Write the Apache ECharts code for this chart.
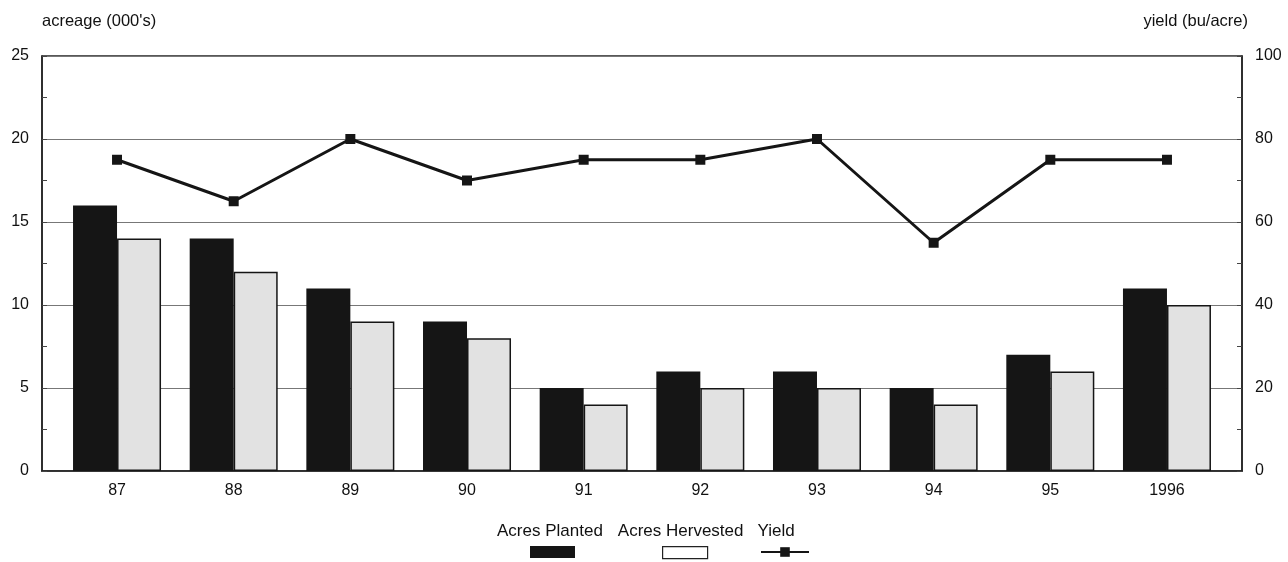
<!DOCTYPE html>
<html>
<head>
<meta charset="utf-8">
<script src="https://cdn.jsdelivr.net/npm/echarts@6/dist/echarts.min.js"></script>
<style>html,body{margin:0;padding:0;background:#fff;}#c{width:1288px;height:562px;}</style>
</head>
<body>
<div id="c"></div>
<script>
const years = ['87','88','89','90','91','92','93','94','95','1996'];
const acresPlanted = [16, 14, 11, 9, 5, 6, 6, 5, 7, 11];
const acresHarvested = [14, 12, 9, 8, 4, 5, 5, 4, 6, 10];
const yieldBu = [75, 65, 80, 70, 75, 75, 80, 55, 75, 75];
const leftTicks = [0, 25, 5];
const rightTicks = [0, 100, 20];

const font = 'Liberation Sans, Arial, sans-serif';
const ink = '#111';
const chart = echarts.init(document.getElementById('c'));
chart.setOption({
  animation: false,
  backgroundColor: '#fff',
  grid: [
    {left: 42, right: 46, top: 56, bottom: 91, show: true, borderColor: '#222', borderWidth: 1.5, backgroundColor: 'transparent'},
    {left: 58.7, right: 62.7, top: 56, bottom: 91}
  ],
  xAxis: [
    {gridIndex: 0, type: 'category', data: years, axisLabel: {show: false}, axisTick: {show: false},
     axisLine: {lineStyle: {color: '#222', width: 1.5}}},
    {gridIndex: 1, type: 'category', data: years, axisLine: {show: false}, axisTick: {show: false},
     axisLabel: {color: ink, fontFamily: font, fontSize: 16, margin: 12}}
  ],
  yAxis: [
    {gridIndex: 0, type: 'value', min: leftTicks[0], max: leftTicks[1], interval: leftTicks[2], position: 'left',
     name: "acreage (000's)", nameLocation: 'end', nameGap: 26,
     nameTextStyle: {color: ink, fontFamily: font, fontSize: 16.5, align: 'left'},
     axisLine: {show: true, lineStyle: {color: '#222', width: 1.5}},
     axisTick: {show: true, inside: true, length: 5, lineStyle: {color: '#444'}},
     minorTick: {show: true, splitNumber: 2, length: 5, lineStyle: {color: '#444'}},
     axisLabel: {color: ink, fontFamily: font, fontSize: 16, margin: 13},
     splitLine: {show: true, lineStyle: {color: '#777', width: 1}}},
    {gridIndex: 0, type: 'value', min: rightTicks[0], max: rightTicks[1], interval: rightTicks[2], position: 'right',
     name: 'yield (bu/acre)', nameLocation: 'end', nameGap: 26,
     nameTextStyle: {color: ink, fontFamily: font, fontSize: 16.5, align: 'right', padding: [0, -6, 0, 0]},
     axisLine: {show: true, lineStyle: {color: '#222', width: 1.5}},
     axisTick: {show: true, inside: true, length: 5, lineStyle: {color: '#444'}},
     minorTick: {show: true, splitNumber: 2, length: 5, lineStyle: {color: '#444'}},
     axisLabel: {color: ink, fontFamily: font, fontSize: 16, margin: 13},
     splitLine: {show: false}},
    {gridIndex: 1, type: 'value', min: leftTicks[0], max: leftTicks[1], show: false, splitLine: {show: false}},
    {gridIndex: 1, type: 'value', min: rightTicks[0], max: rightTicks[1], show: false, splitLine: {show: false}}
  ],
  legend: [
    {data: ['Acres Planted', 'Acres Hervested', 'Yield'], top: 518, left: 487, itemGap: 9,
     itemWidth: 0, itemHeight: 0, icon: 'rect',
     textStyle: {color: ink, fontFamily: font, fontSize: 17}},
    {data: ['Acres Planted'], top: 541, left: 525, icon: 'rect', itemWidth: 45, itemHeight: 12, formatter: () => ''},
    {data: [{name: 'Acres Hervested', itemStyle: {color: '#fff', borderColor: '#222', borderWidth: 1.2}}],
     top: 541, left: 657, icon: 'rect', itemWidth: 45, itemHeight: 12, formatter: () => ''},
    {data: ['Yield'], top: 541, left: 755, itemWidth: 48, itemHeight: 12, formatter: () => ''}
  ],
  series: [
    {name: 'Acres Planted', type: 'bar', xAxisIndex: 1, yAxisIndex: 2, data: acresPlanted,
     barWidth: 44, barGap: '0%', itemStyle: {color: '#151515'}},
    {name: 'Acres Hervested', type: 'bar', xAxisIndex: 1, yAxisIndex: 2, data: acresHarvested,
     barWidth: 44, barGap: '0%', itemStyle: {color: '#e2e2e2', borderColor: '#151515', borderWidth: 1.5}},
    {name: 'Yield', type: 'line', xAxisIndex: 1, yAxisIndex: 3, data: yieldBu,
     symbol: 'rect', symbolSize: 10, lineStyle: {color: '#151515', width: 3},
     itemStyle: {color: '#151515'}, z: 5}
  ]
});
</script>
</body>
</html>
